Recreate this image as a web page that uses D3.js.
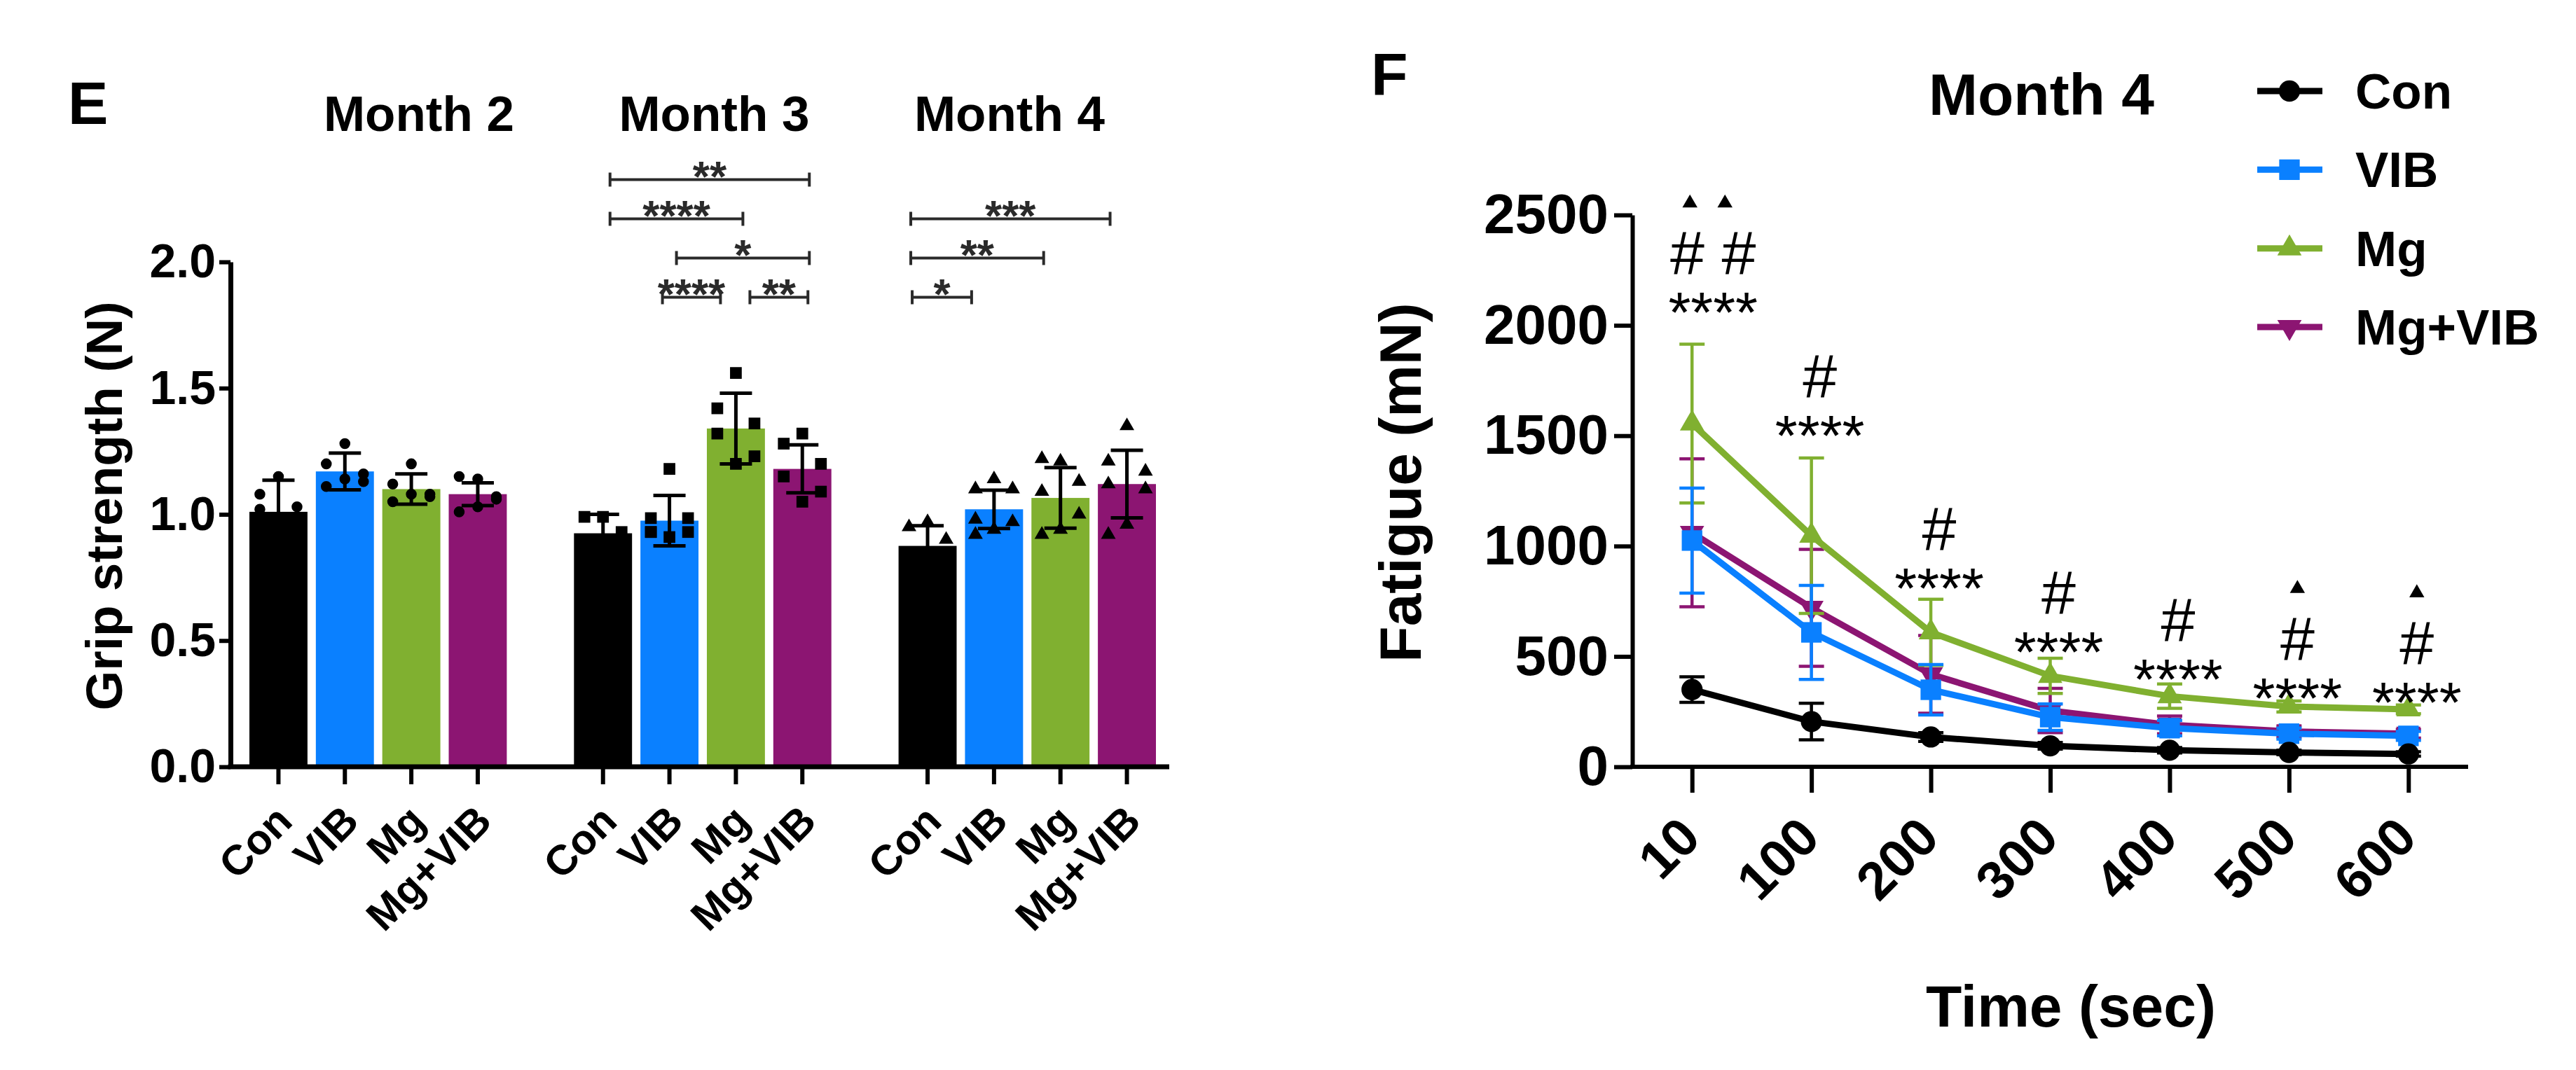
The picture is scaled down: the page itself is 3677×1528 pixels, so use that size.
<!DOCTYPE html>
<html>
<head>
<meta charset="utf-8">
<script src="https://cdn.jsdelivr.net/npm/d3@7"></script>
<style>
body { margin: 0; background: #fff; }
svg { display: block; }
text { font-family: "Liberation Sans", Arial, sans-serif; }
</style>
</head>
<body>
<div id="chart"></div>
<script>
const width = 3677;
const height = 1528;

// ---- panel E: grip strength ----
const months = ["Month 2", "Month 3", "Month 4"];
const groups = ["Con", "VIB", "Mg", "Mg+VIB"];
const gripMean = [
  [1.01, 1.17, 1.10, 1.08],
  [0.925, 0.975, 1.34, 1.18],
  [0.875, 1.02, 1.065, 1.12]
];
const gripSd = [
  [0.125, 0.073, 0.06, 0.045],
  [0.075, 0.10, 0.14, 0.095],
  [0.08, 0.076, 0.12, 0.134]
];
const gripPoints = [
  [[1.15, 1.08, 1.03, 1.02, 0.92, 0.87], [1.28, 1.20, 1.16, 1.11, 1.13, 1.14], [1.20, 1.12, 1.08, 1.05, 1.07, 1.08], [1.14, 1.15, 1.06, 1.01, 1.07, 1.03]],
  [[0.99, 0.99, 0.93, 0.88, 0.85, 0.90], [1.18, 0.985, 0.985, 0.93, 0.93, 0.91, 0.93], [1.56, 1.42, 1.36, 1.32, 1.23, 1.20], [1.32, 1.28, 1.20, 1.15, 1.09, 1.05]],
  [[0.97, 0.95, 0.90, 0.84, 0.80, 0.82, 0.84], [1.14, 1.10, 1.10, 0.98, 0.97, 0.94, 0.92], [1.21, 1.22, 1.13, 1.09, 1.00, 0.94, 0.92], [1.35, 1.21, 1.17, 1.12, 1.10, 0.96, 0.92]]
];
// month, from, to, level, label
const brackets = [
  ["Month 3", "Con", "Mg+VIB", 3, "**"],
  ["Month 3", "Con", "Mg", 2, "****"],
  ["Month 3", "VIB", "Mg+VIB", 1, "*"],
  ["Month 3", "VIB", "Mg", 0, "****"],
  ["Month 3", "Mg", "Mg+VIB", 0, "**"],
  ["Month 4", "Con", "Mg+VIB", 2, "***"],
  ["Month 4", "Con", "Mg", 1, "**"],
  ["Month 4", "Con", "VIB", 0, "*"]
];
const gripTicks = [0, 0.5, 1.0, 1.5, 2.0];

// ---- panel F: fatigue ----
const times = ["10", "100", "200", "300", "400", "500", "600"];
const conMean = [350, 205, 135, 95, 75, 65, 58];
const conSd = [58, 83, 20, 15, 12, 10, 10];
const vibMean = [1025, 609, 349, 225, 175, 150, 140];
const vibSd = [238, 213, 114, 60, 35, 25, 20];
const mgMean = [1555, 1047, 609, 412, 320, 273, 260];
const mgSd = [360, 352, 150, 80, 55, 25, 20];
const mgvibMean = [1060, 720, 419, 255, 190, 160, 150];
const mgvibSd = [335, 265, 176, 100, 40, 25, 20];
const hashMarks = ["# #", "#", "#", "#", "#", "#", "#"];
const starMarks = ["****", "****", "****", "****", "****", "****", "****"];
const triangleMarks = [2, 0, 0, 0, 0, 1, 1];
const fatigueTicks = [0, 500, 1000, 1500, 2000, 2500];

const colors = { "Con": "#000000", "VIB": "#0a80ff", "Mg": "#80b030", "Mg+VIB": "#8c1572" };

const svg = d3.select("#chart")
  .append("svg")
    .attr("width", width)
    .attr("height", height);

svg.append("rect").attr("width", width).attr("height", height).attr("fill", "#fff");

// ================= panel E =================
const yL = d3.scaleLinear().domain([0, 2]).range([1095, 374]);
const xMonth = d3.scaleBand().domain(months).range([356, 1650]).paddingInner(0.207);
const xGroup = d3.scaleBand().domain(groups).range([0, xMonth.bandwidth()]).paddingInner(0.126);
const cx = (m, g) => xMonth(m) + xGroup(g) + xGroup.bandwidth() / 2;

const left = svg.append("g");

const barData = months.flatMap((m, i) => groups.map((g, j) => ({
  month: m, group: g, mi: i,
  mean: gripMean[i][j], sd: gripSd[i][j], points: gripPoints[i][j]
})));

left.selectAll("rect.bar")
  .data(barData)
  .join("rect")
    .attr("class", "bar")
    .attr("x", d => xMonth(d.month) + xGroup(d.group))
    .attr("width", xGroup.bandwidth())
    .attr("y", d => yL(d.mean))
    .attr("height", d => yL(0) - yL(d.mean))
    .attr("fill", d => colors[d.group]);

// scatter points
const pointShapes = [d3.symbolCircle, d3.symbolSquare, d3.symbolTriangle];
const pointSizes = [190, 280, 190];
const jitter = [0, -1, 1, -1, 1, 0, -1, 1];
const pointData = barData.flatMap(d => d.points.map((v, i) => ({ ...d, v, i })));
left.selectAll("path.pt")
  .data(pointData)
  .join("path")
    .attr("class", "pt")
    .attr("d", d => d3.symbol().type(pointShapes[d.mi]).size(pointSizes[d.mi])())
    .attr("transform", d => `translate(${cx(d.month, d.group) + jitter[d.i % jitter.length] * xGroup.bandwidth() * 0.32},${yL(d.v)})`)
    .attr("fill", "#000");

// error bars
const eb = left.selectAll("g.eb").data(barData).join("g").attr("class", "eb")
  .attr("stroke", "#000").attr("stroke-width", 5);
eb.append("line")
  .attr("x1", d => cx(d.month, d.group)).attr("x2", d => cx(d.month, d.group))
  .attr("y1", d => yL(d.mean - d.sd)).attr("y2", d => yL(d.mean + d.sd));
eb.append("line")
  .attr("x1", d => cx(d.month, d.group) - 23).attr("x2", d => cx(d.month, d.group) + 23)
  .attr("y1", d => yL(d.mean + d.sd)).attr("y2", d => yL(d.mean + d.sd));
eb.append("line")
  .attr("x1", d => cx(d.month, d.group) - 23).attr("x2", d => cx(d.month, d.group) + 23)
  .attr("y1", d => yL(d.mean - d.sd)).attr("y2", d => yL(d.mean - d.sd));

// y axis
const yAxisL = left.append("g")
  .attr("transform", "translate(329,0)")
  .call(d3.axisLeft(yL).tickValues(gripTicks).tickFormat(d3.format(".1f")).tickSize(16).tickPadding(5).tickSizeOuter(0));
yAxisL.attr("font-size", 68).attr("font-family", null).attr("font-weight", "bold");
yAxisL.select(".domain").attr("stroke-width", 7);
yAxisL.selectAll(".tick line").attr("stroke-width", 6);

// x axis
left.append("line")
  .attr("x1", 325.5).attr("x2", 1669).attr("y1", yL(0)).attr("y2", yL(0))
  .attr("stroke", "#000").attr("stroke-width", 7);
left.selectAll("line.xt")
  .data(barData)
  .join("line")
    .attr("class", "xt")
    .attr("x1", d => cx(d.month, d.group)).attr("x2", d => cx(d.month, d.group))
    .attr("y1", yL(0)).attr("y2", yL(0) + 25)
    .attr("stroke", "#000").attr("stroke-width", 6);
left.selectAll("text.xl")
  .data(barData)
  .join("text")
    .attr("class", "xl")
    .attr("transform", d => `translate(${cx(d.month, d.group) + 8},${yL(0) + 66}) rotate(-45)`)
    .attr("text-anchor", "end")
    .attr("dy", "0.35em")
    .attr("font-size", 60)
    .attr("font-weight", "bold")
    .text(d => d.group);

// titles
const titleX = d3.scalePoint().domain(months).range([598, 1441]);
left.selectAll("text.mt")
  .data(months)
  .join("text")
    .attr("class", "mt")
    .attr("x", d => titleX(d))
    .attr("y", 187)
    .attr("text-anchor", "middle")
    .attr("font-size", 71)
    .attr("font-weight", "bold")
    .text(d => d);

left.append("text")
  .attr("transform", `translate(174,${(yL(0) + yL(2)) / 2 - 12}) rotate(-90)`)
  .attr("text-anchor", "middle")
  .attr("font-size", 73)
  .attr("font-weight", "bold")
  .text("Grip strength (N)");

left.append("text")
  .attr("x", 97).attr("y", 177)
  .attr("font-size", 86).attr("font-weight", "bold")
  .text("E");

// significance brackets
function bracketEnds(d) {
  const [m, from, to] = d;
  const fi = groups.indexOf(from), ti = groups.indexOf(to);
  const off = m === "Month 4" ? -24 : 10;
  let x1 = cx(m, from) + off, x2 = cx(m, to) + off;
  if (ti - fi === 1) {
    if (ti === groups.length - 1) { x1 += 10; x2 -= 2; }
    else if (m === "Month 3") { x1 -= 20; x2 -= 32; }
    else { x1 += 2; x2 -= 8; }
  }
  return [x1, x2];
}
const br = left.selectAll("g.br").data(brackets).join("g").attr("class", "br");
const brY = d => yL(1.86) - d[3] * 56;
br.append("line")
  .attr("x1", d => bracketEnds(d)[0]).attr("x2", d => bracketEnds(d)[1])
  .attr("y1", brY).attr("y2", brY)
  .attr("stroke", "#2a2a2a").attr("stroke-width", 4);
br.append("line")
  .attr("x1", d => bracketEnds(d)[0]).attr("x2", d => bracketEnds(d)[0])
  .attr("y1", d => brY(d) - 10).attr("y2", d => brY(d) + 10)
  .attr("stroke", "#2a2a2a").attr("stroke-width", 4);
br.append("line")
  .attr("x1", d => bracketEnds(d)[1]).attr("x2", d => bracketEnds(d)[1])
  .attr("y1", d => brY(d) - 10).attr("y2", d => brY(d) + 10)
  .attr("stroke", "#2a2a2a").attr("stroke-width", 4);
br.append("text")
  .attr("x", d => d3.mean(bracketEnds(d)))
  .attr("y", d => brY(d) + 17)
  .attr("text-anchor", "middle")
  .attr("font-size", 62)
  .attr("font-weight", "bold")
  .attr("fill", "#2a2a2a")
  .text(d => d[4]);

// ================= panel F =================
const xR = d3.scalePoint().domain(times).range([2330, 3523]).padding(0.5);
const yR = d3.scaleLinear().domain([0, 2500]).range([1095, 307]);

const series = [
  { name: "Con", mean: conMean, sd: conSd, shape: d3.symbolCircle, size: 720, rot: 0 },
  { name: "VIB", mean: vibMean, sd: vibSd, shape: d3.symbolSquare, size: 860, rot: 0 },
  { name: "Mg", mean: mgMean, sd: mgSd, shape: d3.symbolTriangle, size: 520, rot: 0 },
  { name: "Mg+VIB", mean: mgvibMean, sd: mgvibSd, shape: d3.symbolTriangle, size: 520, rot: 180 }
];
const drawOrder = ["Mg+VIB", "Mg", "VIB", "Con"];

const right = svg.append("g");

const line = d3.line()
  .x((d, i) => xR(times[i]))
  .y(d => yR(d));

drawOrder.forEach(name => {
  const s = series.find(d => d.name === name);
  const g = right.append("g");
  const pts = times.map((t, i) => ({ t, m: s.mean[i], sd: s.sd[i] }));
  const e = g.selectAll("g.e").data(pts).join("g").attr("class", "e")
    .attr("stroke", colors[name]).attr("stroke-width", 4.5);
  e.append("line")
    .attr("x1", d => xR(d.t)).attr("x2", d => xR(d.t))
    .attr("y1", d => yR(d.m - d.sd)).attr("y2", d => yR(d.m + d.sd));
  e.append("line")
    .attr("x1", d => xR(d.t) - 18).attr("x2", d => xR(d.t) + 18)
    .attr("y1", d => yR(d.m + d.sd)).attr("y2", d => yR(d.m + d.sd));
  e.append("line")
    .attr("x1", d => xR(d.t) - 18).attr("x2", d => xR(d.t) + 18)
    .attr("y1", d => yR(d.m - d.sd)).attr("y2", d => yR(d.m - d.sd));
  g.append("path")
    .datum(s.mean)
    .attr("fill", "none")
    .attr("stroke", colors[name])
    .attr("stroke-width", 9)
    .attr("stroke-linejoin", "round")
    .attr("d", line);
  g.selectAll("path.mk").data(pts).join("path")
    .attr("class", "mk")
    .attr("d", d3.symbol().type(s.shape).size(s.size)())
    .attr("transform", d => `translate(${xR(d.t)},${yR(d.m)}) rotate(${s.rot})`)
    .attr("fill", colors[name]);
});

// axes
const yAxisR = right.append("g")
  .attr("transform", "translate(2330,0)")
  .call(d3.axisLeft(yR).tickValues(fatigueTicks).tickFormat(d3.format("d")).tickSize(26).tickPadding(8).tickSizeOuter(0));
yAxisR.attr("font-size", 80).attr("font-family", null).attr("font-weight", "bold");
yAxisR.select(".domain").attr("stroke-width", 6);
yAxisR.selectAll(".tick line").attr("stroke-width", 6);

const xAxisR = right.append("g")
  .attr("transform", `translate(0,${yR(0)})`)
  .call(d3.axisBottom(xR).tickSize(37).tickSizeOuter(0));
xAxisR.attr("font-size", 76).attr("font-family", null).attr("font-weight", "bold");
xAxisR.select(".domain").attr("stroke-width", 6).attr("d", "M2327,0H3523");
xAxisR.selectAll(".tick line").attr("stroke-width", 6);
xAxisR.selectAll(".tick text")
  .attr("x", 0).attr("y", 0).attr("dy", "0.35em")
  .attr("text-anchor", "end")
  .attr("transform", "translate(-4,86) rotate(-45)");

// significance marks over each time point
const topY = times.map((t, i) => d3.min(series, s => yR(s.mean[i] + s.sd[i])));
const markX = i => xR(times[i]) + (i === 0 ? 30 : 12);
const starCenter = i => topY[i] - 15 - 0.08 * (yR(0) - topY[i]);
right.selectAll("text.st")
  .data(starMarks)
  .join("text")
    .attr("class", "st")
    .attr("x", (d, i) => markX(i))
    .attr("y", (d, i) => starCenter(i) + 46)
    .attr("text-anchor", "middle")
    .attr("font-size", 82)
    .text(d => d);
right.selectAll("text.hs")
  .data(hashMarks)
  .join("text")
    .attr("class", "hs")
    .attr("x", (d, i) => markX(i))
    .attr("y", (d, i) => starCenter(i) - 68 + 31)
    .attr("text-anchor", "middle")
    .attr("font-size", 88)
    .text(d => d);
const triData = triangleMarks.flatMap((n, i) => d3.range(n).map(k => ({ i, k, n })));
right.selectAll("path.tri")
  .data(triData)
  .join("path")
    .attr("class", "tri")
    .attr("d", d3.symbol().type(d3.symbolTriangle).size(200)())
    .attr("transform", d => `translate(${markX(d.i) + (d.n > 1 ? (d.k - 0.5) * 50 - 8 : 0)},${starCenter(d.i) - 68 - 70})`)
    .attr("fill", "#000");

// titles and labels
right.append("text")
  .attr("x", 2914).attr("y", 164)
  .attr("text-anchor", "middle")
  .attr("font-size", 84).attr("font-weight", "bold")
  .text("Month 4");

right.append("text")
  .attr("x", 2956).attr("y", 1466)
  .attr("text-anchor", "middle")
  .attr("font-size", 84).attr("font-weight", "bold")
  .text("Time (sec)");

right.append("text")
  .attr("transform", `translate(2028,${(yR(0) + yR(2500)) / 2 - 12}) rotate(-90)`)
  .attr("text-anchor", "middle")
  .attr("font-size", 84).attr("font-weight", "bold")
  .text("Fatigue (mN)");

right.append("text")
  .attr("x", 1957).attr("y", 136)
  .attr("font-size", 86).attr("font-weight", "bold")
  .text("F");

// legend
const legendY = d3.scalePoint().domain(series.map(d => d.name)).range([130, 467]);
const lg = right.selectAll("g.lg").data(series).join("g").attr("class", "lg")
  .attr("transform", d => `translate(3222,${legendY(d.name)})`);
lg.append("line")
  .attr("x1", 0).attr("x2", 93)
  .attr("stroke", d => colors[d.name]).attr("stroke-width", 9);
lg.append("path")
  .attr("d", d => d3.symbol().type(d.shape).size(d.size)())
  .attr("transform", d => `translate(46,0) rotate(${d.rot})`)
  .attr("fill", d => colors[d.name]);
lg.append("text")
  .attr("x", 140).attr("dy", "0.35em")
  .attr("font-size", 71).attr("font-weight", "bold")
  .text(d => d.name);
</script>
</body>
</html>
